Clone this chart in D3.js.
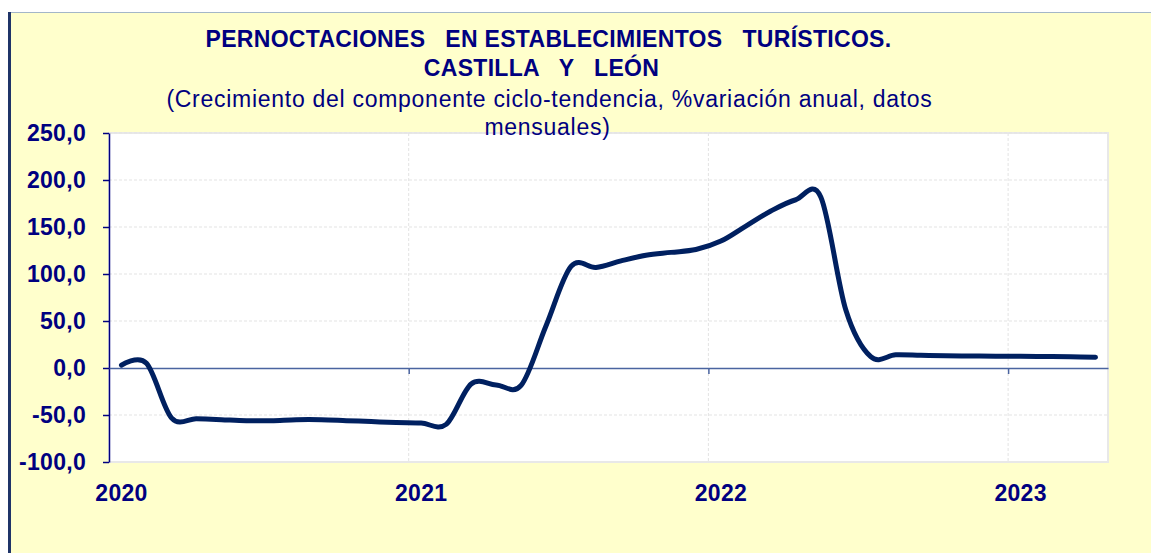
<!DOCTYPE html>
<html>
<head>
<meta charset="utf-8">
<script src="https://cdn.jsdelivr.net/npm/d3@7"></script>
<style>
  body { margin: 0; background: #fff; }
  svg { display: block; font-family: "Liberation Sans", Arial, sans-serif; }
</style>
</head>
<body>
<div id="chart"></div>
<script>
// monthly categories, Jan 2020 - Apr 2023
const months = [
  "2020-01","2020-02","2020-03","2020-04","2020-05","2020-06","2020-07","2020-08","2020-09","2020-10","2020-11","2020-12",
  "2021-01","2021-02","2021-03","2021-04","2021-05","2021-06","2021-07","2021-08","2021-09","2021-10","2021-11","2021-12",
  "2022-01","2022-02","2022-03","2022-04","2022-05","2022-06","2022-07","2022-08","2022-09","2022-10","2022-11","2022-12",
  "2023-01","2023-02","2023-03","2023-04"
]
// % variacion anual
const values = [
  3, 5, -53, -54, -55, -56, -56, -55, -55, -56, -57, -58,
  -58.5, -60, -17, -18, -18.5, 45, 108, 107, 114, 120, 123, 126,
  135, 151, 167, 179, 182, 62, 12, 14, 13.5, 13, 12.8, 12.6,
  12.4, 12.2, 12, 11.5
]
const yTicks = [-100, -50, 0, 50, 100, 150, 200, 250]
const yearLabels = ["2020", "2021", "2022", "2023"]
const titleLines = [
  "PERNOCTACIONES   EN ESTABLECIMIENTOS   TURÍSTICOS.",
  "CASTILLA   Y   LEÓN"
]
const subtitleLines = [
  "(Crecimiento del componente ciclo-tendencia, %variación anual, datos",
  "mensuales)"
]

const width = 1151
const height = 553
const navy = "#000080"

const svg = d3.select("#chart").append("svg").attr("width", width).attr("height", height)

const margin = ({top: 133, right: 43, bottom: 91, left: 109})

// frame of the chart area
svg.append("rect").attr("x", 8).attr("y", 12).attr("width", width - 8).attr("height", height - 12).attr("fill", "#ffffcc")
svg.append("line").attr("x1", 8).attr("x2", width).attr("y1", 12.5).attr("y2", 12.5).attr("stroke", "#a3b6c8").attr("stroke-width", 1)
svg.append("rect").attr("x", 8).attr("y", 12).attr("width", 3).attr("height", height - 12).attr("fill", "#1f3468")

const x = d3.scaleBand()
  .domain(months)
  .range([margin.left, width - margin.right])
  .padding(0)

const xEdge = d3.scaleLinear()
  .domain([0, months.length])
  .range([margin.left, width - margin.right])

const y = d3.scaleLinear()
  .domain([-100, 250])
  .range([height - margin.bottom, margin.top])

// plot area
svg.append("rect")
  .attr("x", margin.left).attr("y", margin.top)
  .attr("width", width - margin.right - margin.left)
  .attr("height", height - margin.bottom - margin.top)
  .attr("fill", "#fff")
  .attr("stroke", "#e8e8e8")
  .attr("stroke-width", 2)

// gridlines
svg.append("g")
  .selectAll("line")
  .data(yTicks.filter(d => d !== 0 && d !== -100))
  .join("line")
  .attr("x1", margin.left).attr("x2", width - margin.right)
  .attr("y1", d => y(d)).attr("y2", d => y(d))
  .attr("stroke", "#e3e3e3")
  .attr("stroke-dasharray", "3,2")

const yearStarts = months.map((m, i) => i).filter(i => i % 12 === 0)

svg.append("g")
  .selectAll("line")
  .data(yearStarts.filter(i => i > 0))
  .join("line")
  .attr("x1", d => xEdge(d)).attr("x2", d => xEdge(d))
  .attr("y1", margin.top).attr("y2", height - margin.bottom)
  .attr("stroke", "#e3e3e3")
  .attr("stroke-dasharray", "3,2")

// number format with decimal comma
const es = d3.formatLocale({decimal: ",", thousands: ".", grouping: [3], currency: ["", "€"], minus: "-"})
const fmt = es.format(".1f")

const yAxis = g => g
  .attr("transform", `translate(${margin.left},0)`)
  .call(d3.axisLeft(y).tickValues(yTicks).tickFormat(fmt).tickSizeInner(6).tickSizeOuter(0).tickPadding(17))
  .call(g => g.select(".domain").attr("stroke", navy).attr("stroke-width", 1.5))
  .call(g => g.selectAll(".tick line").attr("stroke", navy).attr("stroke-width", 1.5))
  .call(g => g.selectAll(".tick text")
    .attr("fill", navy)
    .attr("font-size", 23)
    .attr("font-weight", "bold")
    .attr("letter-spacing", 0.3)
    .attr("font-family", "Liberation Sans, Arial, sans-serif"))

const xAxis = g => g
  .attr("transform", `translate(0,${y(0)})`)
  .call(d3.axisBottom(xEdge).tickValues(yearStarts.filter(i => i > 0)).tickFormat("").tickSizeInner(6).tickSizeOuter(0))
  .call(g => g.select(".domain").attr("stroke", "#4a64a0").attr("stroke-width", 1.5))
  .call(g => g.selectAll(".tick line").attr("stroke", "#4a64a0").attr("stroke-width", 1.5))

svg.append("g").call(yAxis)
svg.append("g").call(xAxis)

// year labels under the plot, on the January category
const labelAxis = g => g
  .attr("transform", `translate(0,${height - margin.bottom})`)
  .call(d3.axisBottom(x)
    .tickValues(yearStarts.map(i => months[i]))
    .tickFormat((d, i) => yearLabels[i])
    .tickSize(0)
    .tickPadding(23))
  .call(g => g.select(".domain").remove())
  .call(g => g.selectAll(".tick text")
    .attr("fill", navy)
    .attr("font-size", 23)
    .attr("font-weight", "bold")
    .attr("letter-spacing", 0.3)
    .attr("font-family", "Liberation Sans, Arial, sans-serif"))

svg.append("g").call(labelAxis)

// the series
const line = d3.line()
  .curve(d3.curveCardinal.tension(0))
  .x((d, i) => x(months[i]) + x.bandwidth() / 2)
  .y(d => y(d))

svg.append("path")
  .datum(values)
  .attr("d", line)
  .attr("fill", "none")
  .attr("stroke", "#002060")
  .attr("stroke-width", 5)
  .attr("stroke-linecap", "round")
  .attr("stroke-linejoin", "round")

// titles
svg.append("g")
  .selectAll("text")
  .data(titleLines)
  .join("text")
  .attr("x", (d, i) => [548.5, 541.5][i])
  .attr("y", (d, i) => [47.3, 76][i])
  .attr("text-anchor", "middle")
  .attr("fill", navy)
  .attr("font-size", 23)
  .attr("font-weight", "bold")
  .attr("letter-spacing", 0.3)
  .style("white-space", "pre")
  .text(d => d)

svg.append("g")
  .selectAll("text")
  .data(subtitleLines)
  .join("text")
  .attr("x", (d, i) => [549.5, 547.5][i])
  .attr("y", (d, i) => [107, 135][i])
  .attr("text-anchor", "middle")
  .attr("fill", navy)
  .attr("font-size", 23)
  .attr("letter-spacing", 0.72)
  .text(d => d)
</script>
</body>
</html>
